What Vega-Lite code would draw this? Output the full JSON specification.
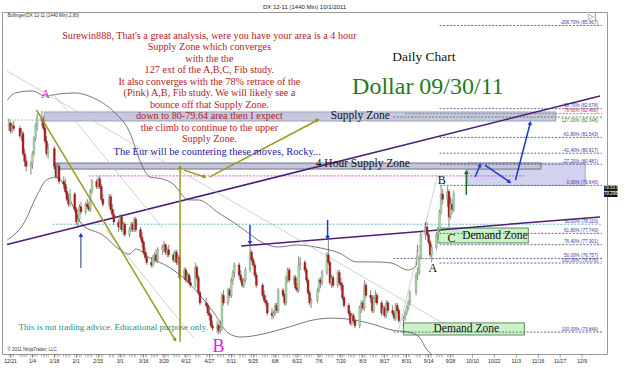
{
"$schema": "https://vega.github.io/schema/vega-lite/v6.json",
"width": 605, "height": 342,
"autosize": {"type": "none"},
"padding": {"left": 2, "top": 12, "right": 18, "bottom": 17},
"background": "white",
"title": {"text": "DX 12-11 (1440 Min)  10/1/2011", "fontSize": 6, "font": "Liberation Sans", "fontWeight": "normal", "color": "#222", "offset": 2, "anchor": "middle"},
"config": {"view": {"stroke": "#999", "strokeWidth": 1}},
"datasets": {
"candles": [
{"d":"2010-12-20","o":82.0,"h":82.3,"l":81.8,"c":82.1},
{"d":"2010-12-21","o":82.1,"h":82.2,"l":81.7,"c":81.8},
{"d":"2010-12-22","o":81.8,"h":82.1,"l":81.7,"c":82.0},
{"d":"2010-12-23","o":82.0,"h":82.2,"l":81.8,"c":81.9},
{"d":"2010-12-27","o":81.9,"h":82.0,"l":81.5,"c":81.6},
{"d":"2010-12-28","o":81.6,"h":81.9,"l":81.4,"c":81.7},
{"d":"2010-12-29","o":81.7,"h":81.8,"l":80.8,"c":80.9},
{"d":"2010-12-30","o":80.9,"h":81.1,"l":80.4,"c":80.6},
{"d":"2010-12-31","o":80.6,"h":80.8,"l":80.2,"c":80.4},
{"d":"2011-01-03","o":80.4,"h":80.6,"l":80.07,"c":80.5},
{"d":"2011-01-04","o":80.5,"h":81.0,"l":80.3,"c":80.9},
{"d":"2011-01-05","o":80.9,"h":81.6,"l":80.8,"c":81.5},
{"d":"2011-01-06","o":81.5,"h":82.1,"l":81.4,"c":82.0},
{"d":"2011-01-07","o":82.0,"h":82.5,"l":81.8,"c":82.3},
{"d":"2011-01-10","o":82.3,"h":82.6,"l":82.0,"c":82.2},
{"d":"2011-01-11","o":82.2,"h":82.4,"l":81.8,"c":81.9},
{"d":"2011-01-12","o":81.9,"h":82.0,"l":81.3,"c":81.4},
{"d":"2011-01-13","o":81.4,"h":81.6,"l":80.8,"c":80.9},
{"d":"2011-01-14","o":80.9,"h":81.3,"l":80.7,"c":81.1},
{"d":"2011-01-18","o":81.1,"h":81.2,"l":80.3,"c":80.4},
{"d":"2011-01-19","o":80.4,"h":80.5,"l":79.9,"c":80.0},
{"d":"2011-01-20","o":80.0,"h":80.5,"l":79.9,"c":80.4},
{"d":"2011-01-21","o":80.4,"h":80.5,"l":79.7,"c":79.8},
{"d":"2011-01-24","o":79.8,"h":80.0,"l":79.5,"c":79.7},
{"d":"2011-01-25","o":79.7,"h":79.9,"l":79.3,"c":79.4},
{"d":"2011-01-26","o":79.4,"h":79.6,"l":79.0,"c":79.1},
{"d":"2011-01-27","o":79.1,"h":79.3,"l":78.8,"c":78.9},
{"d":"2011-01-28","o":78.9,"h":79.5,"l":78.8,"c":79.3},
{"d":"2011-01-31","o":79.3,"h":79.4,"l":78.6,"c":78.7},
{"d":"2011-02-01","o":78.7,"h":78.8,"l":78.1,"c":78.2},
{"d":"2011-02-02","o":78.2,"h":78.5,"l":77.98,"c":78.3},
{"d":"2011-02-03","o":78.3,"h":78.9,"l":78.2,"c":78.8},
{"d":"2011-02-04","o":78.8,"h":79.0,"l":78.5,"c":78.6},
{"d":"2011-02-07","o":78.6,"h":79.0,"l":78.5,"c":78.9},
{"d":"2011-02-08","o":78.9,"h":79.1,"l":78.7,"c":78.8},
{"d":"2011-02-09","o":78.8,"h":79.0,"l":78.6,"c":78.7},
{"d":"2011-02-10","o":78.7,"h":79.5,"l":78.6,"c":79.4},
{"d":"2011-02-11","o":79.4,"h":79.9,"l":79.3,"c":79.8},
{"d":"2011-02-14","o":79.8,"h":79.9,"l":79.5,"c":79.6},
{"d":"2011-02-15","o":79.6,"h":80.0,"l":79.5,"c":79.9},
{"d":"2011-02-16","o":79.9,"h":80.0,"l":79.5,"c":79.6},
{"d":"2011-02-17","o":79.6,"h":79.7,"l":79.0,"c":79.1},
{"d":"2011-02-18","o":79.1,"h":79.3,"l":78.8,"c":78.9},
{"d":"2011-02-22","o":78.9,"h":79.3,"l":78.8,"c":79.2},
{"d":"2011-02-23","o":79.2,"h":79.3,"l":78.6,"c":78.7},
{"d":"2011-02-24","o":78.7,"h":78.9,"l":78.4,"c":78.5},
{"d":"2011-02-25","o":78.5,"h":78.7,"l":78.1,"c":78.2},
{"d":"2011-02-28","o":78.2,"h":78.3,"l":77.8,"c":78.0},
{"d":"2011-03-01","o":78.0,"h":78.5,"l":77.9,"c":78.4},
{"d":"2011-03-02","o":78.4,"h":78.5,"l":77.8,"c":77.9},
{"d":"2011-03-03","o":77.9,"h":78.2,"l":77.7,"c":78.1},
{"d":"2011-03-04","o":78.1,"h":78.2,"l":77.6,"c":77.7},
{"d":"2011-03-07","o":77.7,"h":78.0,"l":77.6,"c":77.9},
{"d":"2011-03-08","o":77.9,"h":78.2,"l":77.8,"c":78.1},
{"d":"2011-03-09","o":78.1,"h":78.2,"l":77.8,"c":77.9},
{"d":"2011-03-10","o":77.9,"h":78.4,"l":77.8,"c":78.3},
{"d":"2011-03-11","o":78.3,"h":78.4,"l":77.8,"c":77.9},
{"d":"2011-03-14","o":77.9,"h":78.0,"l":77.5,"c":77.6},
{"d":"2011-03-15","o":77.6,"h":77.8,"l":77.2,"c":77.4},
{"d":"2011-03-16","o":77.4,"h":77.5,"l":76.9,"c":77.0},
{"d":"2011-03-17","o":77.0,"h":77.2,"l":76.7,"c":76.8},
{"d":"2011-03-18","o":76.8,"h":77.0,"l":76.5,"c":76.6},
{"d":"2011-03-21","o":76.6,"h":76.8,"l":76.4,"c":76.5},
{"d":"2011-03-22","o":76.5,"h":76.9,"l":76.4,"c":76.8},
{"d":"2011-03-23","o":76.8,"h":77.0,"l":76.6,"c":76.9},
{"d":"2011-03-24","o":76.9,"h":77.1,"l":76.6,"c":76.7},
{"d":"2011-03-25","o":76.7,"h":77.2,"l":76.6,"c":77.1},
{"d":"2011-03-28","o":77.1,"h":77.3,"l":76.9,"c":77.2},
{"d":"2011-03-29","o":77.2,"h":77.45,"l":77.0,"c":77.3},
{"d":"2011-03-30","o":77.3,"h":77.35,"l":76.9,"c":77.0},
{"d":"2011-03-31","o":77.0,"h":77.2,"l":76.8,"c":77.1},
{"d":"2011-04-01","o":77.1,"h":77.3,"l":76.8,"c":76.9},
{"d":"2011-04-04","o":76.9,"h":77.0,"l":76.6,"c":76.7},
{"d":"2011-04-05","o":76.7,"h":77.1,"l":76.6,"c":77.0},
{"d":"2011-04-06","o":77.0,"h":77.1,"l":76.5,"c":76.6},
{"d":"2011-04-07","o":76.6,"h":76.9,"l":76.5,"c":76.8},
{"d":"2011-04-08","o":76.8,"h":76.9,"l":75.9,"c":76.0},
{"d":"2011-04-11","o":76.0,"h":76.4,"l":75.9,"c":76.3},
{"d":"2011-04-12","o":76.3,"h":76.4,"l":75.8,"c":75.9},
{"d":"2011-04-13","o":75.9,"h":76.2,"l":75.8,"c":76.1},
{"d":"2011-04-14","o":76.1,"h":76.2,"l":75.7,"c":75.8},
{"d":"2011-04-15","o":75.8,"h":76.0,"l":75.6,"c":75.7},
{"d":"2011-04-18","o":75.7,"h":76.6,"l":75.6,"c":76.4},
{"d":"2011-04-19","o":76.4,"h":76.5,"l":75.9,"c":76.0},
{"d":"2011-04-20","o":76.0,"h":76.1,"l":75.3,"c":75.4},
{"d":"2011-04-21","o":75.4,"h":75.5,"l":74.9,"c":75.0},
{"d":"2011-04-25","o":75.0,"h":75.2,"l":74.8,"c":74.9},
{"d":"2011-04-26","o":74.9,"h":75.0,"l":74.5,"c":74.6},
{"d":"2011-04-27","o":74.6,"h":74.8,"l":74.3,"c":74.5},
{"d":"2011-04-28","o":74.5,"h":74.6,"l":74.0,"c":74.1},
{"d":"2011-04-29","o":74.1,"h":74.3,"l":73.9,"c":74.0},
{"d":"2011-05-02","o":74.0,"h":74.3,"l":73.8,"c":74.1},
{"d":"2011-05-03","o":74.1,"h":74.2,"l":73.75,"c":73.9},
{"d":"2011-05-04","o":73.9,"h":74.3,"l":73.8,"c":74.0},
{"d":"2011-05-05","o":74.0,"h":75.4,"l":73.9,"c":75.3},
{"d":"2011-05-06","o":75.3,"h":75.5,"l":74.9,"c":75.0},
{"d":"2011-05-09","o":75.0,"h":75.6,"l":74.9,"c":75.5},
{"d":"2011-05-10","o":75.5,"h":75.6,"l":75.2,"c":75.3},
{"d":"2011-05-11","o":75.3,"h":76.0,"l":75.2,"c":75.9},
{"d":"2011-05-12","o":75.9,"h":76.3,"l":75.7,"c":76.2},
{"d":"2011-05-13","o":76.2,"h":76.6,"l":76.0,"c":76.5},
{"d":"2011-05-16","o":76.5,"h":76.6,"l":76.0,"c":76.1},
{"d":"2011-05-17","o":76.1,"h":76.3,"l":75.8,"c":75.9},
{"d":"2011-05-18","o":75.9,"h":76.0,"l":75.6,"c":75.7},
{"d":"2011-05-19","o":75.7,"h":76.0,"l":75.6,"c":75.9},
{"d":"2011-05-20","o":75.9,"h":76.4,"l":75.8,"c":76.3},
{"d":"2011-05-23","o":76.3,"h":77.25,"l":76.2,"c":77.0},
{"d":"2011-05-24","o":77.0,"h":77.1,"l":76.6,"c":76.7},
{"d":"2011-05-25","o":76.7,"h":76.8,"l":76.4,"c":76.5},
{"d":"2011-05-26","o":76.5,"h":76.6,"l":76.0,"c":76.1},
{"d":"2011-05-27","o":76.1,"h":76.2,"l":75.6,"c":75.7},
{"d":"2011-05-31","o":75.7,"h":75.8,"l":75.2,"c":75.3},
{"d":"2011-06-01","o":75.3,"h":75.5,"l":75.0,"c":75.1},
{"d":"2011-06-02","o":75.1,"h":75.3,"l":74.9,"c":75.0},
{"d":"2011-06-03","o":75.0,"h":75.1,"l":74.5,"c":74.6},
{"d":"2011-06-06","o":74.6,"h":74.8,"l":74.35,"c":74.5},
{"d":"2011-06-07","o":74.5,"h":74.7,"l":74.4,"c":74.6},
{"d":"2011-06-08","o":74.6,"h":75.0,"l":74.5,"c":74.9},
{"d":"2011-06-09","o":74.9,"h":75.0,"l":74.6,"c":74.7},
{"d":"2011-06-10","o":74.7,"h":75.6,"l":74.6,"c":75.5},
{"d":"2011-06-13","o":75.5,"h":75.6,"l":75.2,"c":75.3},
{"d":"2011-06-14","o":75.3,"h":75.4,"l":74.9,"c":75.0},
{"d":"2011-06-15","o":75.0,"h":76.1,"l":74.9,"c":76.0},
{"d":"2011-06-16","o":76.0,"h":76.4,"l":75.8,"c":76.3},
{"d":"2011-06-17","o":76.3,"h":76.4,"l":75.8,"c":75.9},
{"d":"2011-06-20","o":75.9,"h":76.1,"l":75.7,"c":76.0},
{"d":"2011-06-21","o":76.0,"h":76.1,"l":75.5,"c":75.6},
{"d":"2011-06-22","o":75.6,"h":75.8,"l":75.4,"c":75.5},
{"d":"2011-06-23","o":75.5,"h":76.85,"l":75.4,"c":76.5},
{"d":"2011-06-24","o":76.5,"h":76.8,"l":76.3,"c":76.6},
{"d":"2011-06-27","o":76.6,"h":76.7,"l":76.2,"c":76.3},
{"d":"2011-06-28","o":76.3,"h":76.4,"l":75.8,"c":75.9},
{"d":"2011-06-29","o":75.9,"h":76.0,"l":75.3,"c":75.4},
{"d":"2011-06-30","o":75.4,"h":75.5,"l":74.9,"c":75.0},
{"d":"2011-07-01","o":75.0,"h":75.2,"l":74.8,"c":75.1},
{"d":"2011-07-05","o":75.1,"h":75.6,"l":75.0,"c":75.5},
{"d":"2011-07-06","o":75.5,"h":76.0,"l":75.4,"c":75.9},
{"d":"2011-07-07","o":75.9,"h":76.0,"l":75.6,"c":75.8},
{"d":"2011-07-08","o":75.8,"h":76.3,"l":75.7,"c":76.2},
{"d":"2011-07-11","o":76.2,"h":77.0,"l":76.1,"c":76.9},
{"d":"2011-07-12","o":76.9,"h":77.5,"l":76.5,"c":76.6},
{"d":"2011-07-13","o":76.6,"h":76.7,"l":75.7,"c":75.8},
{"d":"2011-07-14","o":75.8,"h":76.1,"l":75.6,"c":76.0},
{"d":"2011-07-15","o":76.0,"h":76.1,"l":75.6,"c":75.7},
{"d":"2011-07-18","o":75.7,"h":76.3,"l":75.6,"c":76.2},
{"d":"2011-07-19","o":76.2,"h":76.3,"l":75.7,"c":75.8},
{"d":"2011-07-20","o":75.8,"h":76.0,"l":75.5,"c":75.7},
{"d":"2011-07-21","o":75.7,"h":75.8,"l":75.1,"c":75.2},
{"d":"2011-07-22","o":75.2,"h":75.3,"l":74.8,"c":74.9},
{"d":"2011-07-25","o":74.9,"h":75.0,"l":74.5,"c":74.6},
{"d":"2011-07-26","o":74.6,"h":74.7,"l":74.1,"c":74.2},
{"d":"2011-07-27","o":74.2,"h":74.6,"l":74.1,"c":74.5},
{"d":"2011-07-28","o":74.5,"h":74.6,"l":74.2,"c":74.3},
{"d":"2011-07-29","o":74.3,"h":74.4,"l":74.0,"c":74.1},
{"d":"2011-08-01","o":74.1,"h":74.9,"l":74.0,"c":74.8},
{"d":"2011-08-02","o":74.8,"h":75.1,"l":74.6,"c":75.0},
{"d":"2011-08-03","o":75.0,"h":75.1,"l":74.7,"c":74.8},
{"d":"2011-08-04","o":74.8,"h":75.9,"l":74.7,"c":75.7},
{"d":"2011-08-05","o":75.7,"h":75.8,"l":75.2,"c":75.3},
{"d":"2011-08-08","o":75.3,"h":75.5,"l":75.0,"c":75.2},
{"d":"2011-08-09","o":75.2,"h":75.3,"l":74.6,"c":74.7},
{"d":"2011-08-10","o":74.7,"h":75.3,"l":74.6,"c":75.2},
{"d":"2011-08-11","o":75.2,"h":75.5,"l":75.0,"c":75.3},
{"d":"2011-08-12","o":75.3,"h":75.4,"l":74.9,"c":75.0},
{"d":"2011-08-15","o":75.0,"h":75.1,"l":74.5,"c":74.6},
{"d":"2011-08-16","o":74.6,"h":74.9,"l":74.5,"c":74.8},
{"d":"2011-08-17","o":74.8,"h":74.9,"l":74.4,"c":74.5},
{"d":"2011-08-18","o":74.5,"h":75.1,"l":74.4,"c":75.0},
{"d":"2011-08-19","o":75.0,"h":75.1,"l":74.6,"c":74.7},
{"d":"2011-08-22","o":74.7,"h":74.9,"l":74.5,"c":74.6},
{"d":"2011-08-23","o":74.6,"h":74.7,"l":74.3,"c":74.4},
{"d":"2011-08-24","o":74.4,"h":75.0,"l":74.3,"c":74.9},
{"d":"2011-08-25","o":74.9,"h":75.0,"l":74.6,"c":74.7},
{"d":"2011-08-26","o":74.7,"h":74.8,"l":74.2,"c":74.3},
{"d":"2011-08-29","o":74.3,"h":74.5,"l":74.05,"c":74.4},
{"d":"2011-08-30","o":74.4,"h":74.7,"l":74.3,"c":74.6},
{"d":"2011-08-31","o":74.6,"h":74.9,"l":74.5,"c":74.8},
{"d":"2011-09-01","o":74.8,"h":75.1,"l":74.7,"c":75.0},
{"d":"2011-09-02","o":75.0,"h":75.5,"l":74.9,"c":75.4},
{"d":"2011-09-06","o":75.4,"h":76.2,"l":75.3,"c":76.1},
{"d":"2011-09-07","o":76.1,"h":76.4,"l":75.9,"c":76.2},
{"d":"2011-09-08","o":76.2,"h":76.9,"l":76.1,"c":76.8},
{"d":"2011-09-09","o":76.8,"h":77.8,"l":76.7,"c":77.7},
{"d":"2011-09-12","o":77.7,"h":78.2,"l":77.5,"c":78.0},
{"d":"2011-09-13","o":78.0,"h":78.2,"l":77.6,"c":77.7},
{"d":"2011-09-14","o":77.7,"h":77.8,"l":77.3,"c":77.4},
{"d":"2011-09-15","o":77.4,"h":77.5,"l":76.8,"c":76.9},
{"d":"2011-09-16","o":76.9,"h":77.3,"l":76.6,"c":77.2},
{"d":"2011-09-19","o":77.2,"h":77.8,"l":77.1,"c":77.7},
{"d":"2011-09-20","o":77.7,"h":78.0,"l":77.5,"c":77.9},
{"d":"2011-09-21","o":77.9,"h":78.7,"l":77.8,"c":78.6},
{"d":"2011-09-22","o":78.6,"h":79.65,"l":78.5,"c":79.3},
{"d":"2011-09-23","o":79.3,"h":79.5,"l":78.9,"c":79.1},
{"d":"2011-09-26","o":79.1,"h":79.6,"l":78.8,"c":79.4},
{"d":"2011-09-27","o":79.4,"h":79.5,"l":78.0,"c":78.4},
{"d":"2011-09-28","o":78.4,"h":79.2,"l":78.3,"c":78.9},
{"d":"2011-09-29","o":78.9,"h":79.1,"l":78.5,"c":78.7},
{"d":"2011-09-30","o":78.7,"h":79.45,"l":78.6,"c":79.3}
],
"bands": [
{"d":"2010-12-19","p":83.02,"b":"upper"},{"d":"2010-12-24","p":83.30,"b":"upper"},{"d":"2011-01-04","p":83.38,"b":"upper"},{"d":"2011-01-12","p":83.18,"b":"upper"},{"d":"2011-01-21","p":83.26,"b":"upper"},{"d":"2011-01-31","p":83.30,"b":"upper"},{"d":"2011-02-12","p":83.10,"b":"upper"},{"d":"2011-02-25","p":82.55,"b":"upper"},{"d":"2011-03-07","p":81.76,"b":"upper"},{"d":"2011-03-14","p":80.57,"b":"upper"},{"d":"2011-03-20","p":79.98,"b":"upper"},{"d":"2011-03-28","p":79.90,"b":"upper"},{"d":"2011-04-03","p":79.74,"b":"upper"},{"d":"2011-04-14","p":79.07,"b":"upper"},{"d":"2011-04-20","p":79.07,"b":"upper"},{"d":"2011-05-03","p":78.55,"b":"upper"},{"d":"2011-05-13","p":78.16,"b":"upper"},{"d":"2011-05-22","p":77.76,"b":"upper"},{"d":"2011-05-30","p":77.41,"b":"upper"},{"d":"2011-06-10","p":77.21,"b":"upper"},{"d":"2011-06-22","p":77.29,"b":"upper"},{"d":"2011-07-07","p":77.17,"b":"upper"},{"d":"2011-07-19","p":76.97,"b":"upper"},{"d":"2011-07-30","p":76.62,"b":"upper"},{"d":"2011-08-11","p":76.62,"b":"upper"},{"d":"2011-08-21","p":76.58,"b":"upper"},{"d":"2011-09-01","p":76.30,"b":"upper"},{"d":"2011-09-06","p":76.46,"b":"upper"},{"d":"2011-09-07","p":77.29,"b":"upper"},
{"d":"2010-12-19","p":77.49,"b":"lower"},{"d":"2010-12-30","p":78.20,"b":"lower"},{"d":"2011-01-07","p":79.27,"b":"lower"},{"d":"2011-01-13","p":79.86,"b":"lower"},{"d":"2011-01-20","p":79.98,"b":"lower"},{"d":"2011-01-28","p":79.07,"b":"lower"},{"d":"2011-02-05","p":78.08,"b":"lower"},{"d":"2011-02-18","p":77.68,"b":"lower"},{"d":"2011-03-01","p":77.09,"b":"lower"},{"d":"2011-03-07","p":76.93,"b":"lower"},{"d":"2011-03-11","p":77.13,"b":"lower"},{"d":"2011-03-20","p":76.78,"b":"lower"},{"d":"2011-04-01","p":76.42,"b":"lower"},{"d":"2011-04-14","p":75.79,"b":"lower"},{"d":"2011-04-22","p":75.23,"b":"lower"},{"d":"2011-04-30","p":74.60,"b":"lower"},{"d":"2011-05-09","p":73.81,"b":"lower"},{"d":"2011-05-17","p":73.65,"b":"lower"},{"d":"2011-06-03","p":73.81,"b":"lower"},{"d":"2011-06-17","p":74.05,"b":"lower"},{"d":"2011-07-02","p":74.32,"b":"lower"},{"d":"2011-07-14","p":74.40,"b":"lower"},{"d":"2011-07-29","p":74.32,"b":"lower"},{"d":"2011-08-11","p":74.13,"b":"lower"},{"d":"2011-08-21","p":73.93,"b":"lower"},{"d":"2011-09-01","p":73.85,"b":"lower"},{"d":"2011-09-08","p":73.65,"b":"lower"},{"d":"2011-09-13","p":73.14,"b":"lower"},{"d":"2011-09-16","p":72.98,"b":"lower"}
],
"zones": [
{"d":"2011-01-11T14:00:00Z","d2":"2011-12-04T07:00:00Z","p":82.55,"p2":82.19,"k":"supply"},
{"d":"2011-10-08T17:00:00Z","d2":"2011-12-23T02:00:00Z","p":80.53,"p2":79.64,"k":"hour4b"},
{"d":"2011-01-17T22:00:00Z","d2":"2011-11-24T19:00:00Z","p":80.53,"p2":80.29,"k":"hour4"},
{"d":"2011-09-19T22:00:00Z","d2":"2011-11-16T17:00:00Z","p":77.96,"p2":77.37,"k":"demand"},
{"d":"2011-08-28T22:00:00Z","d2":"2011-11-14T05:00:00Z","p":74.21,"p2":73.73,"k":"demand"}
],
"fibs": [
{"d":"2011-09-21T02:00:00Z","d2":"2012-01-02T18:00:00Z","p":85.967,"lab":"-206.70% (85.967)","t":"fib"},
{"d":"2011-09-21T02:00:00Z","d2":"2012-01-02T18:00:00Z","p":82.678,"lab":"-98.70% (82.678)","t":"fib"},
{"d":"2011-08-30T00:00:00Z","d2":"2012-01-02T18:00:00Z","p":82.48,"lab":"78.60% (82.480)","t":"pink"},
{"d":"2011-08-22T14:00:00Z","d2":"2012-01-02T18:00:00Z","p":82.348,"lab":"127.00% (82.348)","t":"green"},
{"d":"2011-09-21T02:00:00Z","d2":"2012-01-02T18:00:00Z","p":81.543,"lab":"-61.80% (81.543)","t":"fib"},
{"d":"2011-09-21T02:00:00Z","d2":"2012-01-02T18:00:00Z","p":80.917,"lab":"-41.40% (80.917)","t":"fib"},
{"d":"2011-09-21T02:00:00Z","d2":"2012-01-02T18:00:00Z","p":80.481,"lab":"-27.20% (80.481)","t":"fib"},
{"d":"2011-09-21T02:00:00Z","d2":"2012-01-02T18:00:00Z","p":79.646,"lab":"0.00% (79.646)","t":"fib"},
{"d":"2011-01-17T00:00:00Z","d2":"2012-01-02T18:00:00Z","p":78.11,"lab":"50.00% (78.110)","t":"teal"},
{"d":"2011-09-21T02:00:00Z","d2":"2012-01-02T18:00:00Z","p":77.749,"lab":"61.80% (77.749)","t":"fib"},
{"d":"2011-09-21T02:00:00Z","d2":"2012-01-02T18:00:00Z","p":77.301,"lab":"76.40% (77.301)","t":"fib"},
{"d":"2011-08-22T14:00:00Z","d2":"2012-01-02T18:00:00Z","p":76.757,"lab":"50.00% (76.757)","t":"fib"},
{"d":"2011-09-21T02:00:00Z","d2":"2012-01-02T18:00:00Z","p":76.576,"lab":"100.00% (76.576)","t":"fib"},
{"d":"2011-08-22T14:00:00Z","d2":"2012-01-02T18:00:00Z","p":73.846,"lab":"100.00% (73.846)","t":"fib"},
{"d":"2011-02-08T22:00:00Z","d2":"2011-11-15T10:00:00Z","p":80.02,"lab":"","t":"pinkdash"},
{"d":"2010-12-18T18:00:00Z","d2":"2011-01-11T14:00:00Z","p":82.23,"lab":"","t":"graydot"}
],
"lines": [
{"d":"2010-12-18T18:00:00Z","p":77.31,"d2":"2012-01-01T12:00:00Z","p2":83.18,"k":"purple"},
{"d":"2011-05-17T07:00:00Z","p":77.25,"d2":"2012-01-01T12:00:00Z","p2":78.40,"k":"purple"},
{"d":"2010-12-18T18:00:00Z","p":84.17,"d2":"2011-09-21T19:00:00Z","p2":74.25,"k":"gray"},
{"d":"2011-01-17T22:00:00Z","p":83.22,"d2":"2011-03-28T00:00:00Z","p2":77.96,"k":"gray"},
{"d":"2011-02-20T05:00:00Z","p":77.88,"d2":"2011-04-17T02:00:00Z","p2":73.61,"k":"gray"},
{"d":"2011-08-25T19:00:00Z","p":73.93,"d2":"2011-09-19T22:00:00Z","p2":80.06,"k":"gray"}
],
"arrows": [
{"d":"2011-01-06T14:00:00Z","p":82.63,"d2":"2011-04-05T05:00:00Z","p2":73.53,"k":"olive","heading":148.5},
{"d":"2011-04-08T07:00:00Z","p":73.46,"d2":"2011-04-08T07:00:00Z","p2":80.37,"k":"olive","heading":0},
{"d":"2011-04-10T19:00:00Z","p":80.25,"d2":"2011-04-24T00:00:00Z","p2":79.98,"k":"olive","heading":108.4},
{"d":"2011-04-27T05:00:00Z","p":79.98,"d2":"2011-07-05T05:00:00Z","p2":82.23,"k":"olive","heading":62.6},
{"d":"2011-10-08T02:00:00Z","p":79.27,"d2":"2011-10-08T02:00:00Z","p2":80.18,"k":"green","heading":0},
{"d":"2011-10-13T17:00:00Z","p":79.98,"d2":"2011-10-16T22:00:00Z","p2":80.45,"k":"blue","heading":22.6},
{"d":"2011-10-20T00:00:00Z","p":80.45,"d2":"2011-11-04T17:00:00Z","p2":79.78,"k":"blue","heading":124.2},
{"d":"2011-11-08T12:00:00Z","p":79.86,"d2":"2011-11-17T22:00:00Z","p2":82.11,"k":"blue","heading":14.7},
{"d":"2011-07-11T12:00:00Z","p":78.28,"d2":"2011-07-11T12:00:00Z","p2":77.57,"k":"blue","heading":180},
{"d":"2011-05-22T22:00:00Z","p":78.08,"d2":"2011-05-22T22:00:00Z","p2":77.37,"k":"blue","heading":180},
{"d":"2011-02-03T22:00:00Z","p":76.38,"d2":"2011-02-03T22:00:00Z","p2":77.69,"k":"bluegray","heading":0}
],
"xlabels": [
{"d":"2010-12-21","lab":"12/21"},{"d":"2011-01-04","lab":"1/4"},{"d":"2011-01-18","lab":"1/18"},{"d":"2011-02-01","lab":"2/1"},{"d":"2011-02-15","lab":"2/15"},{"d":"2011-03-01","lab":"3/1"},{"d":"2011-03-16","lab":"3/16"},{"d":"2011-03-29","lab":"3/29"},{"d":"2011-04-12","lab":"4/12"},{"d":"2011-04-27","lab":"4/27"},{"d":"2011-05-11","lab":"5/11"},{"d":"2011-05-25","lab":"5/25"},{"d":"2011-06-08","lab":"6/8"},{"d":"2011-06-22","lab":"6/22"},{"d":"2011-07-06","lab":"7/6"},{"d":"2011-07-20","lab":"7/20"},{"d":"2011-08-03","lab":"8/3"},{"d":"2011-08-17","lab":"8/17"},{"d":"2011-08-31","lab":"8/31"},{"d":"2011-09-14","lab":"9/14"},{"d":"2011-09-28","lab":"9/28"},{"d":"2011-10-12","lab":"10/10"},{"d":"2011-10-26","lab":"10/22"},{"d":"2011-11-09","lab":"11/3"},{"d":"2011-11-23","lab":"11/16"},{"d":"2011-12-07","lab":"11/27"},{"d":"2011-12-21","lab":"12/9"}
],
"tags": [
{"d":"2012-01-02T18:00:00Z","p":79.537,"t":"79.537"},
{"d":"2012-01-02T18:00:00Z","p":79.296,"t":"79.296"}
]
},
"resolve": {"scale": {"color": "independent", "fill": "independent", "stroke": "independent", "strokeWidth": "independent", "angle": "independent"}},
"layer": [
{"data": {"name": "zones"},
 "mark": {"type": "rect", "strokeWidth": 0.8},
 "encoding": {
  "x": {"field": "d", "type": "temporal", "title": null, "axis": null, "scale": {"type": "utc", "domain": [{"year": 2010, "month": 12, "date": 18, "hours": 18, "utc": true}, {"year": 2012, "month": 1, "date": 2, "hours": 18, "utc": true}], "nice": false}},
  "x2": {"field": "d2"},
  "y": {"field": "p", "type": "quantitative", "title": null, "scale": {"domain": [72.98, 86.5], "nice": false, "zero": false},
   "axis": {"orient": "right", "title": null, "values": [73,74,75,76,77,78,79,80,81,82,83,84,85,86], "format": ".3f", "labelFontSize": 5, "labelFont": "Liberation Sans", "labelColor": "#222", "tickSize": 3, "tickColor": "#444", "domainColor": "#444", "labelPadding": 1, "grid": false}},
  "y2": {"field": "p2"},
  "fill": {"field": "k", "type": "nominal", "legend": null, "scale": {"domain": ["supply", "hour4b", "hour4", "demand"], "range": ["#c6c9de", "#d2d3ee", "#c3c6da", "#c9f2c9"]}},
  "stroke": {"field": "k", "type": "nominal", "legend": null, "scale": {"domain": ["supply", "hour4b", "hour4", "demand"], "range": ["#8d92aa", "#9a9ac4", "#55586a", "#3f6f3f"]}}
 }},
{"data": {"name": "candles"},
 "mark": {"type": "tick", "orient": "vertical", "size": 3, "thickness": 0.5, "color": "#555", "yOffset": 1.8},
 "encoding": {
  "x": {"field": "d", "type": "temporal", "axis": null, "scale": {"type": "utc", "domain": [{"year": 2010, "month": 12, "date": 18, "hours": 18, "utc": true}, {"year": 2012, "month": 1, "date": 2, "hours": 18, "utc": true}], "nice": false}},
  "y": {"datum": 72.98, "type": "quantitative", "axis": null, "scale": {"domain": [72.98, 86.5], "nice": false, "zero": false}}
 }},
{"data": {"name": "xlabels"},
 "mark": {"type": "tick", "orient": "vertical", "size": 4, "thickness": 0.6, "color": "#444", "yOffset": 2},
 "encoding": {
  "x": {"field": "d", "type": "temporal", "axis": null, "scale": {"type": "utc", "domain": [{"year": 2010, "month": 12, "date": 18, "hours": 18, "utc": true}, {"year": 2012, "month": 1, "date": 2, "hours": 18, "utc": true}], "nice": false}},
  "y": {"datum": 72.98, "type": "quantitative", "axis": null, "scale": {"domain": [72.98, 86.5], "nice": false, "zero": false}}
 }},
{"data": {"name": "xlabels"},
 "mark": {"type": "text", "font": "Liberation Sans", "fontSize": 5, "color": "#222", "align": "center", "baseline": "top", "dy": 5},
 "encoding": {
  "x": {"field": "d", "type": "temporal", "axis": null, "scale": {"type": "utc", "domain": [{"year": 2010, "month": 12, "date": 18, "hours": 18, "utc": true}, {"year": 2012, "month": 1, "date": 2, "hours": 18, "utc": true}], "nice": false}},
  "y": {"datum": 72.98, "type": "quantitative", "axis": null, "scale": {"domain": [72.98, 86.5], "nice": false, "zero": false}},
  "text": {"field": "lab"}
 }},
{"data": {"name": "fibs"},
 "mark": {"type": "rule", "strokeDash": [2, 1.5], "strokeWidth": 0.9},
 "encoding": {
  "x": {"field": "d", "type": "temporal", "axis": null, "scale": {"type": "utc", "domain": [{"year": 2010, "month": 12, "date": 18, "hours": 18, "utc": true}, {"year": 2012, "month": 1, "date": 2, "hours": 18, "utc": true}], "nice": false}},
  "x2": {"field": "d2"},
  "y": {"field": "p", "type": "quantitative", "axis": null, "scale": {"domain": [72.98, 86.5], "nice": false, "zero": false}},
  "color": {"field": "t", "type": "nominal", "legend": null, "scale": {"domain": ["fib", "pink", "green", "teal", "pinkdash", "graydot"], "range": ["#5a5a8a", "#d05080", "#3a8a4a", "#5fb0b0", "#d040d0", "#9ab0a0"]}}
 }},
{"data": {"name": "fibs"},
 "transform": [{"filter": "datum.lab != '' && datum.t != 'green'"}],
 "mark": {"type": "text", "align": "right", "baseline": "bottom", "dx": -4, "dy": -0.3, "fontSize": 4.6, "font": "Liberation Sans"},
 "encoding": {
  "x": {"field": "d2", "type": "temporal", "axis": null, "scale": {"type": "utc", "domain": [{"year": 2010, "month": 12, "date": 18, "hours": 18, "utc": true}, {"year": 2012, "month": 1, "date": 2, "hours": 18, "utc": true}], "nice": false}},
  "y": {"field": "p", "type": "quantitative", "axis": null, "scale": {"domain": [72.98, 86.5], "nice": false, "zero": false}},
  "text": {"field": "lab"},
  "color": {"field": "t", "type": "nominal", "legend": null, "scale": {"domain": ["fib", "pink", "teal"], "range": ["#3a3aa8", "#c03060", "#3a3aa8"]}}
 }},
{"data": {"name": "fibs"},
 "transform": [{"filter": "datum.t == 'green'"}],
 "mark": {"type": "text", "align": "right", "baseline": "top", "dx": -4, "dy": 0.6, "fontSize": 4.6, "font": "Liberation Sans", "color": "#2a7a3a"},
 "encoding": {
  "x": {"field": "d2", "type": "temporal", "axis": null, "scale": {"type": "utc", "domain": [{"year": 2010, "month": 12, "date": 18, "hours": 18, "utc": true}, {"year": 2012, "month": 1, "date": 2, "hours": 18, "utc": true}], "nice": false}},
  "y": {"field": "p", "type": "quantitative", "axis": null, "scale": {"domain": [72.98, 86.5], "nice": false, "zero": false}},
  "text": {"field": "lab"}
 }},
{"data": {"name": "bands"},
 "mark": {"type": "line", "color": "#555", "strokeWidth": 0.8, "interpolate": "monotone"},
 "encoding": {
  "x": {"field": "d", "type": "temporal", "axis": null, "scale": {"type": "utc", "domain": [{"year": 2010, "month": 12, "date": 18, "hours": 18, "utc": true}, {"year": 2012, "month": 1, "date": 2, "hours": 18, "utc": true}], "nice": false}},
  "y": {"field": "p", "type": "quantitative", "axis": null, "scale": {"domain": [72.98, 86.5], "nice": false, "zero": false}},
  "detail": {"field": "b"}
 }},
{"data": {"name": "lines"},
 "mark": {"type": "rule"},
 "encoding": {
  "x": {"field": "d", "type": "temporal", "axis": null, "scale": {"type": "utc", "domain": [{"year": 2010, "month": 12, "date": 18, "hours": 18, "utc": true}, {"year": 2012, "month": 1, "date": 2, "hours": 18, "utc": true}], "nice": false}},
  "x2": {"field": "d2"},
  "y": {"field": "p", "type": "quantitative", "axis": null, "scale": {"domain": [72.98, 86.5], "nice": false, "zero": false}},
  "y2": {"field": "p2"},
  "color": {"field": "k", "type": "nominal", "legend": null, "scale": {"domain": ["purple", "gray"], "range": ["#4b1f78", "#bdbdbd"]}},
  "strokeWidth": {"field": "k", "type": "nominal", "legend": null, "scale": {"domain": ["purple", "gray"], "range": [1.5, 0.7]}}
 }},
{"data": {"name": "candles"},
 "mark": {"type": "rule", "color": "#555", "strokeWidth": 0.7},
 "encoding": {
  "x": {"field": "d", "type": "temporal", "axis": null, "scale": {"type": "utc", "domain": [{"year": 2010, "month": 12, "date": 18, "hours": 18, "utc": true}, {"year": 2012, "month": 1, "date": 2, "hours": 18, "utc": true}], "nice": false}},
  "y": {"field": "l", "type": "quantitative", "axis": null, "scale": {"domain": [72.98, 86.5], "nice": false, "zero": false}},
  "y2": {"field": "h"}
 }},
{"data": {"name": "candles"},
 "mark": {"type": "bar", "width": 1.8, "strokeWidth": 0.4},
 "encoding": {
  "x": {"field": "d", "type": "temporal", "axis": null, "scale": {"type": "utc", "domain": [{"year": 2010, "month": 12, "date": 18, "hours": 18, "utc": true}, {"year": 2012, "month": 1, "date": 2, "hours": 18, "utc": true}], "nice": false}},
  "y": {"field": "o", "type": "quantitative", "axis": null, "scale": {"domain": [72.98, 86.5], "nice": false, "zero": false}},
  "y2": {"field": "c"},
  "fill": {"condition": {"test": "datum.c >= datum.o", "value": "#a9d9a9"}, "value": "#b21a1a"},
  "stroke": {"condition": {"test": "datum.c >= datum.o", "value": "#789878"}, "value": "#8b1010"}
 }},
{"data": {"name": "arrows"},
 "mark": {"type": "rule"},
 "encoding": {
  "x": {"field": "d", "type": "temporal", "axis": null, "scale": {"type": "utc", "domain": [{"year": 2010, "month": 12, "date": 18, "hours": 18, "utc": true}, {"year": 2012, "month": 1, "date": 2, "hours": 18, "utc": true}], "nice": false}},
  "x2": {"field": "d2"},
  "y": {"field": "p", "type": "quantitative", "axis": null, "scale": {"domain": [72.98, 86.5], "nice": false, "zero": false}},
  "y2": {"field": "p2"},
  "color": {"field": "k", "type": "nominal", "legend": null, "scale": {"domain": ["olive", "blue", "bluegray", "green"], "range": ["#9a9a1c", "#1c3cc8", "#6a78a8", "#1a6e1a"]}},
  "strokeWidth": {"field": "k", "type": "nominal", "legend": null, "scale": {"domain": ["olive", "blue", "bluegray", "green"], "range": [1.5, 1.5, 1.2, 2.6]}}
 }},
{"data": {"name": "arrows"},
 "mark": {"type": "point", "shape": "triangle-up", "filled": true, "size": 22, "opacity": 1},
 "encoding": {
  "x": {"field": "d2", "type": "temporal", "axis": null, "scale": {"type": "utc", "domain": [{"year": 2010, "month": 12, "date": 18, "hours": 18, "utc": true}, {"year": 2012, "month": 1, "date": 2, "hours": 18, "utc": true}], "nice": false}},
  "y": {"field": "p2", "type": "quantitative", "axis": null, "scale": {"domain": [72.98, 86.5], "nice": false, "zero": false}},
  "angle": {"field": "heading", "type": "quantitative", "scale": null},
  "color": {"field": "k", "type": "nominal", "legend": null, "scale": {"domain": ["olive", "blue", "bluegray", "green"], "range": ["#9a9a1c", "#1c3cc8", "#1c3cc8", "#1a6e1a"]}}
 }},
{"data": {"name": "tags"},
 "mark": {"type": "rect", "color": "#111", "xOffset": 2, "x2Offset": 15.5, "yOffset": -2.8, "y2Offset": 2.8},
 "encoding": {
  "x": {"field": "d", "type": "temporal", "axis": null, "scale": {"type": "utc", "domain": [{"year": 2010, "month": 12, "date": 18, "hours": 18, "utc": true}, {"year": 2012, "month": 1, "date": 2, "hours": 18, "utc": true}], "nice": false}},
  "x2": {"field": "d"},
  "y": {"field": "p", "type": "quantitative", "axis": null, "scale": {"domain": [72.98, 86.5], "nice": false, "zero": false}},
  "y2": {"field": "p"}
 }},
{"data": {"name": "tags"},
 "mark": {"type": "text", "font": "Liberation Sans", "fontSize": 4.6, "color": "white", "align": "center", "baseline": "middle", "dx": 8.7},
 "encoding": {
  "x": {"field": "d", "type": "temporal", "axis": null, "scale": {"type": "utc", "domain": [{"year": 2010, "month": 12, "date": 18, "hours": 18, "utc": true}, {"year": 2012, "month": 1, "date": 2, "hours": 18, "utc": true}], "nice": false}},
  "y": {"field": "p", "type": "quantitative", "axis": null, "scale": {"domain": [72.98, 86.5], "nice": false, "zero": false}},
  "text": {"field": "t"}
 }},
{"data": {"values": [{"d": "2011-04-27T00:00:00Z", "p": 85.75, "t": ["Surewin888, That's a great analysis, were you have your area is a 4 hour", "Supply Zone which converges", "with the the", "127 ext of the A,B,C, Fib study.", "It also converges with the 78% retrace of the", "(Pink) A,B, Fib study. We will likely see a", "bounce off that Supply Zone.", "down to 80-79.64 area then I expect", "the climb to continue to the upper", "Supply Zone."]}]},
 "mark": {"type": "text", "font": "Liberation Serif", "fontSize": 10.2, "lineHeight": 11.5, "color": "#b22222", "align": "center", "baseline": "top"},
 "encoding": {
  "x": {"field": "d", "type": "temporal", "axis": null, "scale": {"type": "utc", "domain": [{"year": 2010, "month": 12, "date": 18, "hours": 18, "utc": true}, {"year": 2012, "month": 1, "date": 2, "hours": 18, "utc": true}], "nice": false}},
  "y": {"field": "p", "type": "quantitative", "axis": null, "scale": {"domain": [72.98, 86.5], "nice": false, "zero": false}},
  "text": {"field": "t"}
 }},
{"data": {"values": [{"d": "2011-05-02T00:00:00Z", "p": 80.97, "t": "The Eur will be countering these moves, Rocky..."}]},
 "mark": {"type": "text", "font": "Liberation Serif", "fontSize": 10.5, "color": "#1c1c9c", "align": "center", "baseline": "middle"},
 "encoding": {
  "x": {"field": "d", "type": "temporal", "axis": null, "scale": {"type": "utc", "domain": [{"year": 2010, "month": 12, "date": 18, "hours": 18, "utc": true}, {"year": 2012, "month": 1, "date": 2, "hours": 18, "utc": true}], "nice": false}},
  "y": {"field": "p", "type": "quantitative", "axis": null, "scale": {"domain": [72.98, 86.5], "nice": false, "zero": false}},
  "text": {"field": "t"}
 }},
{"data": {"values": [{"d": "2011-09-11T00:00:00Z", "p": 84.72, "t": "Daily Chart"}]},
 "mark": {"type": "text", "font": "Liberation Serif", "fontSize": 13.5, "color": "#111", "align": "center", "baseline": "middle"},
 "encoding": {
  "x": {"field": "d", "type": "temporal", "axis": null, "scale": {"type": "utc", "domain": [{"year": 2010, "month": 12, "date": 18, "hours": 18, "utc": true}, {"year": 2012, "month": 1, "date": 2, "hours": 18, "utc": true}], "nice": false}},
  "y": {"field": "p", "type": "quantitative", "axis": null, "scale": {"domain": [72.98, 86.5], "nice": false, "zero": false}},
  "text": {"field": "t"}
 }},
{"data": {"values": [{"d": "2011-09-13T14:00:00Z", "p": 83.54, "t": "Dollar 09/30/11"}]},
 "mark": {"type": "text", "font": "Liberation Serif", "fontSize": 24, "color": "#1e7b1e", "align": "center", "baseline": "middle"},
 "encoding": {
  "x": {"field": "d", "type": "temporal", "axis": null, "scale": {"type": "utc", "domain": [{"year": 2010, "month": 12, "date": 18, "hours": 18, "utc": true}, {"year": 2012, "month": 1, "date": 2, "hours": 18, "utc": true}], "nice": false}},
  "y": {"field": "p", "type": "quantitative", "axis": null, "scale": {"domain": [72.98, 86.5], "nice": false, "zero": false}},
  "text": {"field": "t"}
 }},
{"data": {"values": [
  {"d": "2011-08-01T08:00:00Z", "p": 82.39, "t": "Supply Zone"},
  {"d": "2011-08-03T00:00:00Z", "p": 80.49, "t": "4 Hour Supply Zone"},
  {"d": "2011-10-26T08:00:00Z", "p": 77.63, "t": "Demand Zone"},
  {"d": "2011-10-08T02:00:00Z", "p": 73.95, "t": "Demand Zone"}]},
 "mark": {"type": "text", "font": "Liberation Serif", "fontSize": 11.5, "color": "#111", "align": "center", "baseline": "middle"},
 "encoding": {
  "x": {"field": "d", "type": "temporal", "axis": null, "scale": {"type": "utc", "domain": [{"year": 2010, "month": 12, "date": 18, "hours": 18, "utc": true}, {"year": 2012, "month": 1, "date": 2, "hours": 18, "utc": true}], "nice": false}},
  "y": {"field": "p", "type": "quantitative", "axis": null, "scale": {"domain": [72.98, 86.5], "nice": false, "zero": false}},
  "text": {"field": "t"}
 }},
{"data": {"values": [
  {"d": "2011-09-28T17:00:00Z", "p": 77.57, "t": "C"},
  {"d": "2011-09-22T10:00:00Z", "p": 79.86, "t": "B"},
  {"d": "2011-09-16T17:00:00Z", "p": 76.38, "t": "A"}]},
 "mark": {"type": "text", "font": "Liberation Serif", "fontSize": 12, "color": "#111", "align": "center", "baseline": "middle"},
 "encoding": {
  "x": {"field": "d", "type": "temporal", "axis": null, "scale": {"type": "utc", "domain": [{"year": 2010, "month": 12, "date": 18, "hours": 18, "utc": true}, {"year": 2012, "month": 1, "date": 2, "hours": 18, "utc": true}], "nice": false}},
  "y": {"field": "p", "type": "quantitative", "axis": null, "scale": {"domain": [72.98, 86.5], "nice": false, "zero": false}},
  "text": {"field": "t"}
 }},
{"data": {"values": [{"d": "2011-01-12T08:00:00Z", "p": 83.26, "t": "A"}]},
 "mark": {"type": "text", "font": "Liberation Serif", "fontSize": 13, "color": "#e020e0", "align": "center", "baseline": "middle"},
 "encoding": {
  "x": {"field": "d", "type": "temporal", "axis": null, "scale": {"type": "utc", "domain": [{"year": 2010, "month": 12, "date": 18, "hours": 18, "utc": true}, {"year": 2012, "month": 1, "date": 2, "hours": 18, "utc": true}], "nice": false}},
  "y": {"field": "p", "type": "quantitative", "axis": null, "scale": {"domain": [72.98, 86.5], "nice": false, "zero": false}},
  "text": {"field": "t"}
 }},
{"data": {"values": [{"d": "2011-05-02T20:00:00Z", "p": 73.26, "t": "B"}]},
 "mark": {"type": "text", "font": "Liberation Serif", "fontSize": 18, "color": "#e020e0", "align": "center", "baseline": "middle"},
 "encoding": {
  "x": {"field": "d", "type": "temporal", "axis": null, "scale": {"type": "utc", "domain": [{"year": 2010, "month": 12, "date": 18, "hours": 18, "utc": true}, {"year": 2012, "month": 1, "date": 2, "hours": 18, "utc": true}], "nice": false}},
  "y": {"field": "p", "type": "quantitative", "axis": null, "scale": {"domain": [72.98, 86.5], "nice": false, "zero": false}},
  "text": {"field": "t"}
 }},
{"data": {"values": [{"d": "2011-02-24T14:00:00Z", "p": 74.05, "t": "This is not trading advice. Educational purpose only."}]},
 "mark": {"type": "text", "font": "Liberation Serif", "fontSize": 9, "color": "#2a8c8c", "align": "center", "baseline": "middle"},
 "encoding": {
  "x": {"field": "d", "type": "temporal", "axis": null, "scale": {"type": "utc", "domain": [{"year": 2010, "month": 12, "date": 18, "hours": 18, "utc": true}, {"year": 2012, "month": 1, "date": 2, "hours": 18, "utc": true}], "nice": false}},
  "y": {"field": "p", "type": "quantitative", "axis": null, "scale": {"domain": [72.98, 86.5], "nice": false, "zero": false}},
  "text": {"field": "t"}
 }},
{"data": {"values": [
  {"d": "2010-12-19T00:00:00Z", "p": 86.36, "t": "Bollinger(DX 12-11 (1440 Min),2,80)"},
  {"d": "2010-12-19T00:00:00Z", "p": 73.14, "t": "© 2011 NinjaTrader, LLC"}]},
 "mark": {"type": "text", "font": "Liberation Sans", "fontSize": 4.5, "color": "#333", "align": "left", "baseline": "middle"},
 "encoding": {
  "x": {"field": "d", "type": "temporal", "axis": null, "scale": {"type": "utc", "domain": [{"year": 2010, "month": 12, "date": 18, "hours": 18, "utc": true}, {"year": 2012, "month": 1, "date": 2, "hours": 18, "utc": true}], "nice": false}},
  "y": {"field": "p", "type": "quantitative", "axis": null, "scale": {"domain": [72.98, 86.5], "nice": false, "zero": false}},
  "text": {"field": "t"}
 }},
{"data": {"values": [{"d": "2011-12-27T12:00:00Z", "p": 86.3, "t": "▷|"}]},
 "mark": {"type": "text", "font": "DejaVu Sans", "fontSize": 8, "color": "#777", "align": "center", "baseline": "middle"},
 "encoding": {
  "x": {"field": "d", "type": "temporal", "axis": null, "scale": {"type": "utc", "domain": [{"year": 2010, "month": 12, "date": 18, "hours": 18, "utc": true}, {"year": 2012, "month": 1, "date": 2, "hours": 18, "utc": true}], "nice": false}},
  "y": {"field": "p", "type": "quantitative", "axis": null, "scale": {"domain": [72.98, 86.5], "nice": false, "zero": false}},
  "text": {"field": "t"}
 }}
]
}
